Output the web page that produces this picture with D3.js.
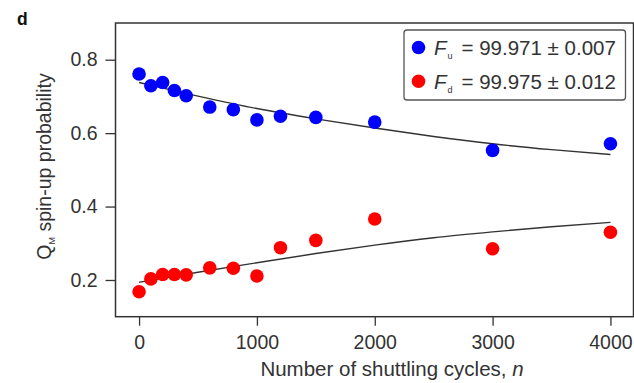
<!DOCTYPE html>
<html>
<head>
<meta charset="utf-8">
<script src="https://cdn.jsdelivr.net/npm/d3@7"></script>
<style>
  html, body { margin: 0; padding: 0; background: #fff; }
  svg { display: block; font-family: "Liberation Sans", Arial, sans-serif; }
</style>
</head>
<body>
<svg id="chart" width="634" height="383"></svg>
<script>
// ---- data ----
const cycles = [0, 100, 200, 300, 400, 600, 800, 1000, 1200, 1500, 2000, 3000, 4000];
const upValues = [0.761, 0.729, 0.738, 0.716, 0.702, 0.671, 0.664, 0.636, 0.646, 0.643, 0.630, 0.553, 0.571];
const downValues = [0.168, 0.203, 0.215, 0.215, 0.214, 0.233, 0.232, 0.211, 0.288, 0.308, 0.366, 0.285, 0.330];
const fitCycles = [0, 500, 1000, 1500, 2000, 2500, 3000, 3500, 4000];
const upFit = [0.738, 0.701, 0.667, 0.639, 0.614, 0.591, 0.571, 0.555, 0.542];
const downFit = [0.194, 0.221, 0.247, 0.272, 0.295, 0.315, 0.331, 0.345, 0.357];
const xTicks = [0, 1000, 2000, 3000, 4000];
const yTicks = [0.2, 0.4, 0.6, 0.8];
const legendEntries = [
  { sym: "F", sub: "u", text: "= 99.971 \u00B1 0.007", color: "#0000ff" },
  { sym: "F", sub: "d", text: "= 99.975 \u00B1 0.012", color: "#ff0000" }
];

(function () {
const svg = d3.select("#chart");
const mLeft = 115.5, mRight = 633.5, mTop = 23, mBottom = 316.7;
const x = d3.scaleLinear().domain([-200, 4200]).range([mLeft, mRight + 0.5]);
const y = d3.scaleLinear().domain([0.1, 0.9]).range([mBottom, mTop]);
const axisColor = "#333";
const textColor = "#333";

// panel label
svg.append("text").attr("x", 17).attr("y", 25).attr("font-weight", "bold")
  .attr("font-size", 17.5).attr("fill", "#111").text("d");

// axes
const xAxis = svg.append("g").attr("transform", `translate(0,${mBottom})`)
  .call(d3.axisBottom(x).tickValues(xTicks).tickSize(9).tickPadding(9).tickFormat(d3.format("d")));
const yAxis = svg.append("g").attr("transform", `translate(${mLeft},0)`)
  .call(d3.axisLeft(y).tickValues(yTicks).tickSize(10).tickPadding(8).tickFormat(d3.format(".1f")));
[xAxis, yAxis].forEach(g => {
  g.select(".domain").remove();
  g.selectAll(".tick line").attr("stroke", axisColor).attr("stroke-width", 1.3);
  g.selectAll(".tick text").attr("fill", textColor).attr("font-size", 19.5)
    .attr("font-family", '"Liberation Sans", Arial, sans-serif');
});

// frame
svg.append("rect").attr("x", mLeft).attr("y", mTop)
  .attr("width", mRight - mLeft).attr("height", mBottom - mTop)
  .attr("fill", "none").attr("stroke", axisColor).attr("stroke-width", 1.5);

// fit lines
const line = d3.line().x(d => x(d[0])).y(d => y(d[1])).curve(d3.curveMonotoneX);
[upFit, downFit].forEach(vals => {
  svg.append("path").datum(fitCycles.map((c, i) => [c, vals[i]]))
    .attr("d", line).attr("fill", "none").attr("stroke", "#333").attr("stroke-width", 1.4);
});

// points
[[upValues, "#0000ff"], [downValues, "#ff0000"]].forEach(([vals, col]) => {
  svg.append("g").selectAll("circle").data(cycles.map((c, i) => [c, vals[i]]))
    .join("circle").attr("cx", d => x(d[0])).attr("cy", d => y(d[1]))
    .attr("r", 6.8).attr("fill", col);
});

// legend
const lg = svg.append("g");
lg.append("rect").attr("x", 404).attr("y", 30).attr("width", 221.5).attr("height", 70)
  .attr("rx", 3).attr("fill", "#fff").attr("stroke", "#555").attr("stroke-width", 1.3);
legendEntries.forEach((e, i) => {
  const cy = 47.5 + i * 33.7;
  lg.append("circle").attr("cx", 418.5).attr("cy", cy).attr("r", 6.8).attr("fill", e.color);
  const t = lg.append("text").attr("x", 434).attr("y", cy + 7.3).attr("font-size", 20.5).attr("fill", textColor);
  t.append("tspan").attr("font-style", "italic").text(e.sym);
  t.append("tspan").attr("font-size", 9).attr("dy", 4).attr("dx", 1).text(e.sub);
  t.append("tspan").attr("dy", -4).attr("dx", 9).text(e.text);
});

// axis titles
svg.append("text").attr("x", 392).attr("y", 376).attr("text-anchor", "middle")
  .attr("font-size", 20.5).attr("fill", textColor)
  .call(t => {
    t.append("tspan").text("Number of shuttling cycles, ");
    t.append("tspan").attr("font-style", "italic").text("n");
  });
const yl = svg.append("text").attr("transform", "translate(51,166.5) rotate(-90)")
  .attr("text-anchor", "middle").attr("font-size", 19.5).attr("fill", textColor);
yl.append("tspan").text("Q");
yl.append("tspan").attr("font-size", 9).attr("dy", 4).text("M");
yl.append("tspan").attr("dy", -4).text(" spin-up probability");
})();
</script>
</body>
</html>
